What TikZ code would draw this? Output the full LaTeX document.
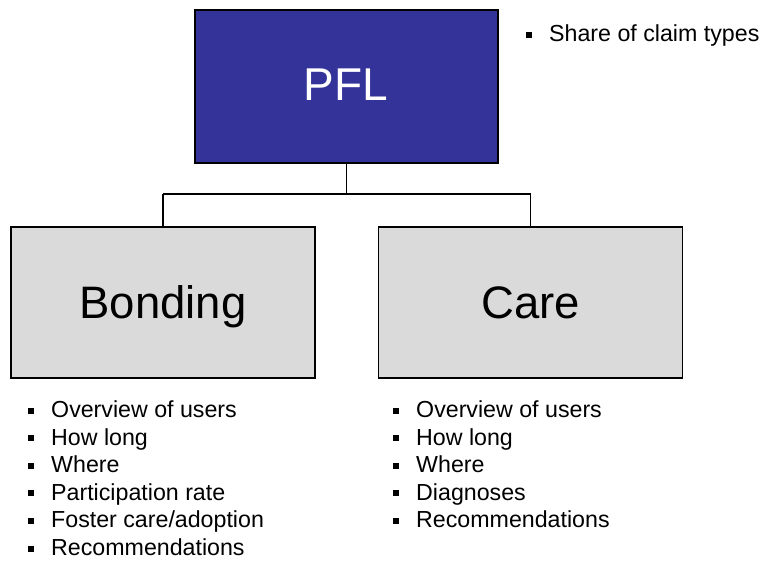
\documentclass[tikz,border=0pt]{standalone}
\usepackage{fontspec}
\setmainfont{Liberation Sans}
\definecolor{pflblue}{HTML}{333399}
\definecolor{boxgray}{HTML}{DADADA}
\newcommand{\bulsq}{\rule[4pt]{6pt}{6pt}\hspace{17pt}}
\begin{document}
\begin{tikzpicture}[x=1pt,y=-1pt,
  topbox/.style={draw=black,line width=1.2pt,fill=pflblue,minimum width=303pt,minimum height=153pt,inner sep=0pt,text=white,font=\fontsize{46}{50}\selectfont},
  subbox/.style={draw=black,line width=1.2pt,fill=boxgray,minimum width=304pt,minimum height=151pt,inner sep=0pt,font=\fontsize{45.5}{50}\selectfont},
  item/.style={anchor=base west,inner sep=0pt,font=\fontsize{23.2}{27}\selectfont},
  conn/.style={line width=1.2pt}]
\useasboundingbox (0,0) rectangle (762,561);
\node[topbox] (pfl) at (346.5,86.5) {};
\node[anchor=base,white,inner sep=0pt,font=\fontsize{46}{50}\selectfont] (pflt) at (346,101) {PFL};
\node[subbox] (bond) at (163,302.5) {};
\node[anchor=base,inner sep=0pt,font=\fontsize{45.5}{50}\selectfont] (bondt) at (163,318) {Bonding};
\node[subbox] (care) at (530.5,302.5) {};
\node[anchor=base,inner sep=0pt,font=\fontsize{45.5}{50}\selectfont] (caret) at (530.5,318) {Care};
\coordinate (j) at (346.5,194);
\coordinate (jl) at (163,194);
\coordinate (jr) at (530.5,194);
\draw[conn] (pfl.south) -- (j);
\draw[conn] (jl) -- (jr);
\draw[conn] (jl) -- (bond.north);
\draw[conn] (jr) -- (care.north);
\node[item] (s1) at (526,42) {\bulsq Share of claim types};
\node[item] (b1) at (28,417.5) {\bulsq Overview of users};
\node[item] (b2) at (28,445.1) {\bulsq How long};
\node[item] (b3) at (28,472.7) {\bulsq Where};
\node[item] (b4) at (28,500.3) {\bulsq Participation rate};
\node[item] (b5) at (28,527.9) {\bulsq Foster care/adoption};
\node[item] (b6) at (28,555.5) {\bulsq Recommendations};
\node[item] (c1) at (393,417.5) {\bulsq Overview of users};
\node[item] (c2) at (393,445.1) {\bulsq How long};
\node[item] (c3) at (393,472.7) {\bulsq Where};
\node[item] (c4) at (393,500.3) {\bulsq Diagnoses};
\node[item] (c5) at (393,527.9) {\bulsq Recommendations};
\end{tikzpicture}
\end{document}
